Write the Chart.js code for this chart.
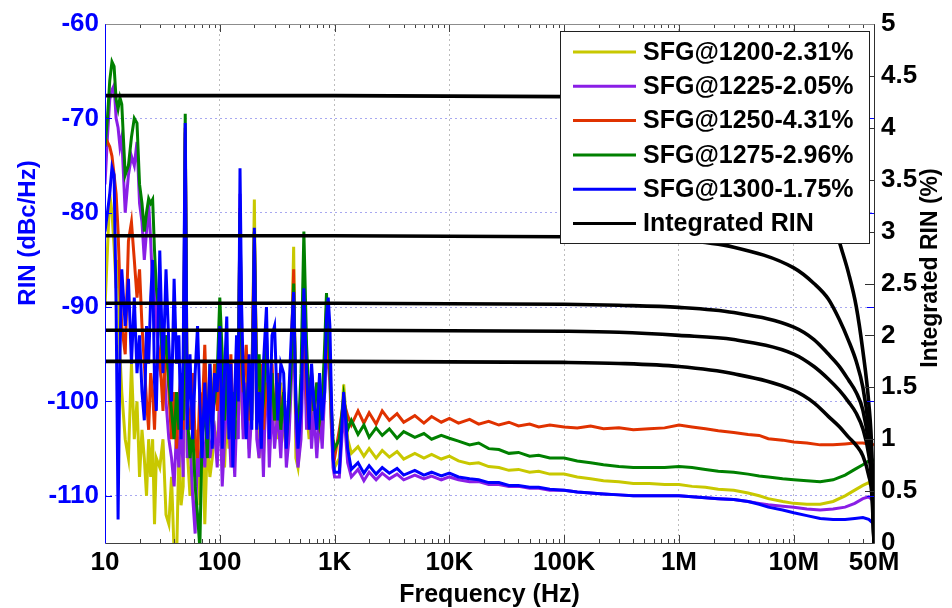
<!DOCTYPE html>
<html>
<head>
<meta charset="utf-8">
<script src="https://cdn.jsdelivr.net/npm/chart.js@4.4.0/dist/chart.umd.min.js"></script>
<style>
  html, body { margin: 0; padding: 0; background: #fff; }
  #wrap { width: 952px; height: 608px; }
</style>
</head>
<body>
<div id="wrap"><canvas id="rinChart" width="952" height="608"></canvas></div>
<script>
// frequency grid of the measured RIN traces (Hz)
const freqHz = [
  10, 10.5, 11, 11.5, 12, 12.5, 13, 13.5, 14, 15, 16, 17, 18, 19, 20,
  21, 22, 23, 24, 25, 26, 27, 28, 30, 32, 34, 36, 38, 40, 42, 44, 46, 48,
  50, 52, 55, 58, 61, 64, 67, 70, 74, 78, 82, 86, 90, 95, 100,
  105, 110, 115, 120, 125, 130, 135, 140, 145, 150, 155, 160, 170, 180, 190, 200,
  210, 220, 230, 240, 255, 270, 285, 300, 320, 340, 360, 380, 400, 420, 440, 460, 480,
  510, 540, 570, 600, 630, 660, 700, 740, 780, 820, 850, 880, 910, 940, 970, 1000,
  1100, 1200, 1300, 1400, 1600,
  1800, 2000, 2300, 2600, 3000,
  3500, 4000, 5000, 6000, 7000,
  8500, 1e4, 1.2e4, 1.5e4, 1.8e4,
  2.2e4, 2.7e4, 3.3e4, 4e4, 5e4,
  6e4, 7.5e4, 1e5, 1.3e5, 1.7e5,
  2.2e5, 3e5, 4e5, 5.5e5, 7.5e5,
  1e6, 1.3e6, 1.7e6, 2.2e6, 3e6,
  4e6, 5e6, 6e6, 8e6, 1e7,
  1.3e7, 1.7e7, 2.2e7, 2.8e7, 3.4e7,
  4e7, 4.5e7, 5e7
];

// RIN in dBc/Hz
const sfg1200 = [
  -90, -84, -78, -80, -83.6, -88, -85, -95, -99, -104, -106, -96, -104, -100, -108,
  -103, -106, -110, -104, -108, -104, -113, -106, -107, -104, -112, -113, -108, -116, -117, -105, -111, -109,
  -72, -105, -110, -104, -108, -103, -111, -101, -113, -104, -108, -106, -103, -105, -99,
  -104, -107, -101, -105, -100, -106, -103, -99, -101, -80, -100, -103, -97, -105, -100, -78.6,
  -102, -106, -100, -106, -96, -104, -99, -101, -104, -98, -103, -105, -102, -96, -83.6, -106, -107,
  -103, -85, -101, -104, -99, -103, -99, -103, -101, -97, -91, -95, -97, -103, -106, -107,
  -106, -98.2, -104, -105.5, -104.8,
  -105.8, -105, -106, -105.2, -105.9,
  -105.3, -106.1, -105.5, -106.0, -105.6,
  -106.1, -105.8, -106.3, -106.6, -106.5,
  -106.9, -107.0, -107.3, -107.2, -107.5,
  -107.4, -107.7, -107.7, -108.0, -108.2,
  -108.4, -108.5, -108.7, -108.7, -108.8,
  -108.8, -109.0, -109.1, -109.3, -109.4,
  -109.7, -110.0, -110.3, -110.6, -110.8,
  -110.9, -110.9, -110.6, -110.0, -109.4,
  -108.9, -108.6, -109.2
];
const sfg1225 = [
  -77, -72, -68, -67, -66.5, -70, -71, -73, -72, -80, -76, -74, -75, -72.5, -79,
  -81, -85, -82, -79, -83, -88, -86, -92, -96, -93, -100, -104, -106, -109, -103, -107, -101, -108,
  -71.5, -106, -104, -110, -114, -105, -108, -103, -107, -101, -106, -104, -103, -107, -99,
  -109, -104, -100, -102, -107, -104, -108, -102, -104, -78, -99, -104, -98, -106, -101, -84,
  -104, -106, -101, -108, -95, -107, -100, -105, -101, -106, -99, -107, -104, -98, -91, -103, -107,
  -104, -93, -103, -98, -105, -101, -106, -101, -105, -99, -94, -96, -98, -103, -107, -108,
  -108, -101, -106.5, -108, -107.2,
  -108.4, -107.5, -108.3, -107.6, -108.2,
  -107.7, -108.3, -107.8, -108.2, -107.9,
  -108.3, -108.0, -108.3, -108.5, -108.5,
  -108.8, -108.8, -109.0, -109.0, -109.2,
  -109.2, -109.4, -109.4, -109.6, -109.7,
  -109.8, -109.9, -110.0, -110.0, -110.0,
  -110.0, -110.1, -110.2, -110.3, -110.4,
  -110.6, -110.8, -110.95, -111.1, -111.2,
  -111.4, -111.5, -111.4, -111.2, -110.8,
  -110.3, -110.1, -110.6
];
const sfg1250 = [
  -72, -72.5, -73, -74, -76, -78, -82, -88, -92, -95, -83, -81, -85, -89, -86,
  -92, -96, -100, -103, -97, -99, -103, -97, -95, -101, -93, -99, -104, -99, -105, -100, -97, -103,
  -71, -100, -103, -97, -104, -106, -99, -102, -94, -103, -99, -102, -96, -101, -95,
  -103, -98, -97, -101, -95, -103, -100, -95, -98, -79.5, -97, -99, -94, -102, -98, -82,
  -98, -101, -96, -103, -98, -101, -96, -102, -97, -101, -99, -103, -100, -95, -86, -101, -103,
  -100, -89, -99, -103, -97, -101, -98, -102, -100, -96, -90, -95, -97, -102, -105, -106,
  -103, -100, -101.5, -102.5, -101,
  -102.3, -101.2, -102.4, -101, -102,
  -101.3, -102.2, -101.5, -102.3, -101.6,
  -102.2, -101.8, -102.3, -101.9, -102.4,
  -102.1, -102.5, -102.2, -102.6, -102.4,
  -102.7, -102.5, -102.7, -102.8, -102.6,
  -102.9, -102.8, -103.0, -102.9, -102.8,
  -102.5, -102.7, -102.9, -103.1, -103.3,
  -103.5, -103.6, -103.95, -104.1, -104.3,
  -104.4, -104.6, -104.6, -104.5, -104.4,
  -104.4, -104.5, -104.6
];
const sfg1275 = [
  -73, -70, -66, -64, -64.5, -68, -69, -67.8, -68.5, -76, -75, -72, -70, -70.5, -77,
  -79, -82, -80, -78.5, -79, -78.6, -84, -88, -91, -96, -93, -98, -101, -104, -99, -103, -97, -102,
  -69.5, -101, -106, -103, -109, -112, -115.5, -104, -100, -106, -96, -101, -100, -97, -89,
  -95, -102, -98, -96, -103, -99, -104, -97, -96, -80, -94, -98, -101, -97, -102, -82,
  -99, -95, -102, -100, -93, -101, -97, -102, -98, -103, -99, -104, -101, -96, -87.5, -100, -104,
  -97, -82, -94, -100, -97, -101, -98, -102, -100, -94, -88.5, -93, -96, -101, -104, -105,
  -104, -99.5, -103, -102, -103.5,
  -102.5, -103.8, -102.8, -103.6, -102.9,
  -103.9, -103.2, -103.8, -103.4, -104.0,
  -103.6, -103.9, -104.2, -104.6, -104.4,
  -105.0, -105.1, -105.5, -105.4, -105.8,
  -105.7, -106.0, -106.0, -106.3, -106.5,
  -106.7, -106.9, -107.0, -107.0, -107.0,
  -106.9, -107.0, -107.2, -107.4, -107.5,
  -107.7, -107.9, -108.0, -108.2, -108.3,
  -108.4, -108.5, -108.3, -107.8, -107.2,
  -106.7, -106.3, -106.2
];
const sfg1300 = [
  -82, -80, -78, -75.2, -76, -90, -112.5, -95, -86, -92, -87, -96, -89, -97, -93,
  -99, -102, -92, -96, -89, -85, -98, -101, -84, -97, -86, -94, -100, -87, -96, -93, -104, -95,
  -70.5, -103, -95, -104, -97, -92, -100, -106, -98, -104, -96, -105, -97, -99, -92,
  -105, -97, -91, -104, -96, -107, -99, -93, -100, -75.3, -90, -97, -104, -95, -103, -81.6,
  -103, -99, -105, -96, -90, -104, -93, -92, -102, -96, -97, -105, -99, -93, -88.4, -100, -105,
  -101, -88, -97, -103, -96, -100, -103, -97, -102, -99, -91, -89, -92, -100, -106, -107.5,
  -107.5, -99, -105, -107.2, -106.5,
  -107.6, -106.8, -107.7, -107, -107.6,
  -107.1, -107.8, -107.3, -107.8, -107.5,
  -107.9, -107.6, -108.0, -108.2, -108.3,
  -108.6, -108.6, -108.9, -108.9, -109.1,
  -109.1, -109.3, -109.4, -109.6, -109.7,
  -109.8, -109.9, -110.0, -110.0, -110.0,
  -110.0, -110.1, -110.2, -110.3, -110.4,
  -110.6, -110.9, -111.2, -111.5, -111.8,
  -112.1, -112.4, -112.5, -112.5, -112.4,
  -112.3, -112.5, -113.0
];

// integrated RIN (%) from f up to 50 MHz
const intFreq = [10, 1e3, 1e5, 3e5, 1e6, 3e6, 1e7, 1.5e7, 2e7, 2.5e7, 3e7, 3.5e7, 4e7, 4.5e7, 4.8e7, 5e7];
const int1200 = [2.31, 2.31, 2.30, 2.29, 2.27, 2.22, 2.08, 1.96, 1.82, 1.70, 1.57, 1.45, 1.28, 0.95, 0.60, 0];
const int1225 = [2.05, 2.05, 2.04, 2.03, 2.00, 1.96, 1.82, 1.70, 1.58, 1.47, 1.36, 1.25, 1.10, 0.85, 0.55, 0];
const int1250 = [4.31, 4.31, 4.30, 4.30, 4.29, 4.25, 3.95, 3.60, 3.30, 2.90, 2.60, 2.28, 1.85, 1.35, 0.85, 0];
const int1275 = [2.96, 2.96, 2.95, 2.94, 2.92, 2.85, 2.65, 2.50, 2.35, 2.15, 1.95, 1.75, 1.50, 1.10, 0.70, 0];
const int1300 = [1.75, 1.75, 1.74, 1.73, 1.70, 1.63, 1.47, 1.35, 1.22, 1.12, 1.02, 0.94, 0.84, 0.65, 0.45, 0];

const xTicks = [10, 100, 1e3, 1e4, 1e5, 1e6, 1e7, 5e7];
const xTickLabels = ['10', '100', '1K', '10K', '100K', '1M', '10M', '50M'];
const yTicks = [-110, -100, -90, -80, -70, -60];

const BOLD = '"Liberation Sans", Arial, sans-serif';

function rinPoints(vals) { return freqHz.map((f, i) => ({ x: f, y: vals[i] })); }
function intPoints(vals) { return intFreq.map((f, i) => ({ x: f, y: vals[i] })); }

function rinSet(label, vals, color, order) {
    return {
        label, data: rinPoints(vals), borderColor: color, backgroundColor: color,
        borderWidth: 3, pointRadius: 0, tension: 0, yAxisID: 'y', order, inLegend: true
    };
}
function intSet(label, vals, showInLegend) {
    return {
        label, data: intPoints(vals), borderColor: '#000', backgroundColor: '#000',
        borderWidth: 3.6, pointRadius: 0, cubicInterpolationMode: 'monotone',
        yAxisID: 'y2', order: 0, inLegend: showInLegend
    };
}

const datasets = [
    rinSet('SFG@1200-2.31%', sfg1200, '#c8c800', 5),
    rinSet('SFG@1225-2.05%', sfg1225, '#8a1ee6', 4),
    rinSet('SFG@1250-4.31%', sfg1250, '#e03200', 3),
    rinSet('SFG@1275-2.96%', sfg1275, '#008000', 2),
    rinSet('SFG@1300-1.75%', sfg1300, '#0000ff', 1),
    intSet('Integrated RIN', int1200, true),
    intSet('Integrated RIN 1225', int1225, false),
    intSet('Integrated RIN 1250', int1250, false),
    intSet('Integrated RIN 1275', int1275, false),
    intSet('Integrated RIN 1300', int1300, false)
];

// MATLAB-like frame, inward ticks, axis titles and boxed legend
const decorPlugin = {
    id: 'decor',
    afterDraw(chart) {
        const { ctx, chartArea: a } = chart;
        const sx = chart.scales.x, sy = chart.scales.y, sy2 = chart.scales.y2;
        const seg = (x1, y1, x2, y2) => { ctx.beginPath(); ctx.moveTo(x1, y1); ctx.lineTo(x2, y2); ctx.stroke(); };
        ctx.save();
        ctx.lineWidth = 1;

        // x ticks, top and bottom
        ctx.strokeStyle = '#404040';
        for (let d = 10; d < 5e7; d *= 10) {
            for (let m = 1; m <= 9; m++) {
                const f = d * m;
                if (f > 5e7) break;
                const px = Math.round(sx.getPixelForValue(f)) + 0.5;
                const len = m === 1 ? 8 : 4;
                seg(px, a.bottom, px, a.bottom - len);
                seg(px, a.top, px, a.top + len);
            }
        }
        // left (blue) ticks, echoed on the right edge
        ctx.strokeStyle = '#0000ff';
        sy.ticks.forEach(t => {
            const py = Math.round(sy.getPixelForValue(t.value)) + 0.5;
            seg(a.left, py, a.left + 7, py);
            seg(a.right, py, a.right - 7, py);
        });
        // right (black) ticks
        ctx.strokeStyle = '#303030';
        sy2.ticks.forEach(t => {
            const py = Math.round(sy2.getPixelForValue(t.value)) + 0.5;
            seg(a.right, py, a.right - 9, py);
        });

        // frame
        const L = Math.round(a.left) + 0.5, R = Math.round(a.right) + 0.5;
        const T = Math.round(a.top) + 0.5, B = Math.round(a.bottom) + 0.5;
        ctx.strokeStyle = '#8c8c8c'; seg(L, T, R, T);
        ctx.strokeStyle = '#404040'; seg(L, B, R, B);
        ctx.strokeStyle = '#303030'; seg(R, T, R, B);
        ctx.strokeStyle = '#0000ff'; seg(L, T, L, B);

        // axis titles
        ctx.textAlign = 'center';
        ctx.textBaseline = 'middle';
        ctx.font = 'bold 24px ' + BOLD;
        ctx.fillStyle = '#0000ff';
        ctx.save(); ctx.translate(28, 233); ctx.rotate(-Math.PI / 2); ctx.fillText('RIN (dBc/Hz)', 0, 0); ctx.restore();
        ctx.fillStyle = '#000';
        ctx.font = 'bold 23px ' + BOLD;
        ctx.save(); ctx.translate(931, 268); ctx.rotate(-Math.PI / 2); ctx.fillText('Integrated RIN (%)', 0, 0); ctx.restore();
        ctx.font = 'bold 25px ' + BOLD;
        ctx.fillText('Frequency (Hz)', (a.left + a.right) / 2, 595);

        // legend
        const items = chart.data.datasets.filter(d => d.inLegend);
        const bx = 560.5, by = 31.5, bw = 309, bh = 212;
        ctx.fillStyle = '#fff';
        ctx.fillRect(bx, by, bw, bh);
        ctx.strokeStyle = '#202020';
        ctx.strokeRect(bx, by, bw, bh);
        ctx.font = 'bold 25px ' + BOLD;
        ctx.textAlign = 'left';
        items.forEach((d, i) => {
            const ry = 52 + i * 34.3;
            ctx.strokeStyle = d.borderColor;
            ctx.lineWidth = 3;
            seg(573, ry, 636, ry);
            ctx.fillStyle = '#000';
            ctx.fillText(d.label, 643, ry + 1);
        });
        ctx.restore();
    }
};

new Chart(document.getElementById('rinChart'), {
    type: 'line',
    data: { datasets },
    options: {
        responsive: false,
        animation: false,
        events: [],
        layout: { padding: { top: 24, left: 0, right: 0, bottom: 0 } },
        plugins: { legend: { display: false }, tooltip: { enabled: false } },
        scales: {
            x: {
                type: 'logarithmic', min: 10, max: 5e7, position: 'bottom',
                afterBuildTicks: s => { s.ticks = xTicks.map(v => ({ value: v })); },
                afterFit: s => { s.height = 65; },
                border: { display: false, dash: [2, 3] },
                grid: {
                    drawTicks: false,
                    color: c => (c.tick && c.tick.value > 10 && c.tick.value < 5e7) ? '#bdbdbd' : 'rgba(0,0,0,0)',
                    lineWidth: 1
                },
                ticks: {
                    autoSkip: false, maxRotation: 0, padding: 4, color: '#000',
                    font: { family: BOLD, size: 26, weight: 'bold' },
                    callback: (v, i) => xTickLabels[i]
                }
            },
            y: {
                type: 'linear', min: -115, max: -60, position: 'left',
                afterBuildTicks: s => { s.ticks = yTicks.map(v => ({ value: v })); },
                afterFit: s => { s.width = 105; },
                border: { display: false, dash: [2, 3] },
                grid: {
                    drawTicks: false,
                    color: c => (c.tick && c.tick.value < -60) ? '#a8a8f0' : 'rgba(0,0,0,0)',
                    lineWidth: 1
                },
                ticks: {
                    padding: 6, color: '#0000ff',
                    font: { family: BOLD, size: 26, weight: 'bold' }
                }
            },
            y2: {
                type: 'linear', min: 0, max: 5, position: 'right',
                afterFit: s => { s.width = 78; },
                border: { display: false },
                grid: { drawOnChartArea: false, drawTicks: false },
                ticks: {
                    stepSize: 0.5, padding: 7, color: '#000',
                    font: { family: BOLD, size: 26, weight: 'bold' },
                    callback: v => String(Number(v.toFixed(1)))
                }
            }
        }
    },
    plugins: [decorPlugin]
});
</script>
</body>
</html>
